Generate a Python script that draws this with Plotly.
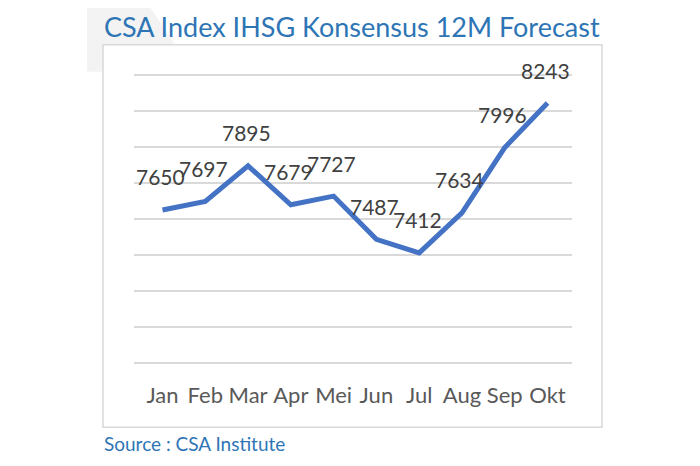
import plotly.graph_objects as go

months = ["Jan", "Feb", "Mar", "Apr", "Mei", "Jun", "Jul", "Aug", "Sep", "Okt"]
values = [7650, 7697, 7895, 7679, 7727, 7487, 7412, 7634, 7996, 8243]
title_text = "CSA Index IHSG Konsensus 12M Forecast"
source_text = "Source : CSA Institute"

FONT = "Lato"
BLUE = "#2E75B6"

# page body has an 8px margin; lay out in window pixels and compensate
OFF = 8
W, H = 700 - 2 * OFF, 466 - 2 * OFF
# plot area in window pixels: x 134..572, y 75..363 (range 6800..8400)
pad = 1.8  # px of extra range so the edge gridlines are drawn
L = 134 - OFF
T = 75 - OFF - pad
R = 700 - 572 - OFF
B = 466 - 363 - OFF - pad
pw, ph = W - L - R, H - T - B


def px(x):
    return (x - OFF - L) / pw


def py(y):
    return (H - B - (y - OFF)) / ph


fig = go.Figure()
fig.add_trace(go.Scatter(
    x=months, y=values, mode="lines",
    line=dict(color="#4472C4", width=5),
    hoverinfo="x+y", showlegend=False,
))

for m, v in zip(months, values):
    fig.add_annotation(x=m, y=v, text=str(v), showarrow=False, yshift=33, xshift=-2,
                       font=dict(family=FONT, size=21, color="#404040"))

# decorative grey shape at top-left
fig.add_shape(type="path", xref="paper", yref="paper", layer="below",
              path=f"M {px(87)},{py(0)} L {px(145)},{py(0)} L {px(193)},{py(72)} L {px(87)},{py(72)} Z",
              fillcolor="#f3f3f3", line=dict(width=0))
# chart frame
fig.add_shape(type="rect", xref="paper", yref="paper", layer="below",
              x0=px(103), x1=px(602), y0=py(427), y1=py(45),
              fillcolor="white", line=dict(color="#d9d9d9", width=1.5))

fig.add_annotation(xref="paper", yref="paper", x=px(352), y=py(27), text=title_text,
                   showarrow=False, xanchor="center", yanchor="middle",
                   font=dict(family=FONT, size=27, color=BLUE))
fig.add_annotation(xref="paper", yref="paper", x=px(102), y=py(443), text=source_text,
                   showarrow=False, xanchor="left", yanchor="middle",
                   font=dict(family=FONT, size=19, color=BLUE))

fig.update_layout(
    width=W, height=H,
    margin=dict(l=L, r=R, t=T, b=B),
    paper_bgcolor="white", plot_bgcolor="rgba(0,0,0,0)",
    xaxis=dict(type="category", showgrid=False, zeroline=False, showline=False,
               tickfont=dict(family=FONT, size=22, color="#595959"),
               ticklabelstandoff=15, fixedrange=True),
    yaxis=dict(range=[6790, 8410], dtick=200, tick0=6800, showgrid=True,
               gridcolor="#d9d9d9", gridwidth=1.5, zeroline=False, showline=False,
               showticklabels=False, fixedrange=True),
)

fig.write_html("out.html")
